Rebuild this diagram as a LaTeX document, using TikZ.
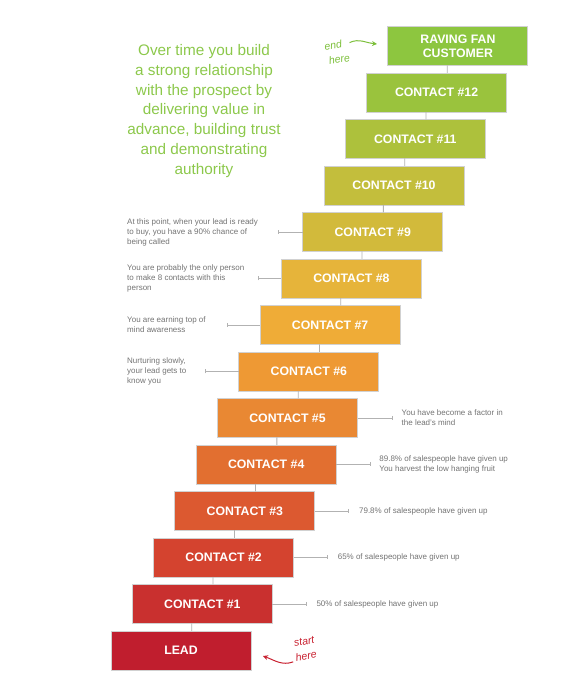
\documentclass[tikz,border=0pt]{standalone}
\usepackage{fontspec}
\setmainfont{Liberation Sans}
\usepackage{xcolor}
\usepackage{tikz}
\usetikzlibrary{arrows.meta, positioning, calc}
\definecolor{funnel_lead}{HTML}{C01E2E}
\definecolor{funnel_c1}{HTML}{C9302F}
\definecolor{funnel_c2}{HTML}{D4432F}
\definecolor{funnel_c3}{HTML}{DC5930}
\definecolor{funnel_c4}{HTML}{E26F30}
\definecolor{funnel_c5}{HTML}{E98833}
\definecolor{funnel_c6}{HTML}{EE9934}
\definecolor{funnel_c7}{HTML}{EFAC37}
\definecolor{funnel_c8}{HTML}{E6B43A}
\definecolor{funnel_c9}{HTML}{D2BA3B}
\definecolor{funnel_c10}{HTML}{C3BE3C}
\definecolor{funnel_c11}{HTML}{ADC13C}
\definecolor{funnel_c12}{HTML}{9AC33D}
\definecolor{funnel_fan}{HTML}{8DC63F}
\definecolor{title_green}{HTML}{8CC84B}
\definecolor{hand_green}{HTML}{7CBF3A}
\definecolor{hand_red}{HTML}{C8202F}

\begin{document}
\begin{tikzpicture}[
        x=1pt, y=1pt,
        contact/.style={rectangle, draw=black!18, line width=0.9pt, outer sep=0pt, minimum width=140pt, minimum height=39pt, text=white, align=center, font=\bfseries\fontsize{12.3}{14}\selectfont},
        link/.style={draw=black!30, line width=0.8pt},
        note/.style={inner sep=0pt, align=left, text=black!55, font=\fontsize{8}{10}\selectfont},
        leftmark/.style={draw=black!30, line width=0.7pt, {Bar[width=4pt]}-},
        rightmark/.style={draw=black!30, line width=0.7pt, -{Bar[width=4pt]}},
        hand/.style={font=\itshape\fontsize{10.5}{15}\selectfont, align=left, inner sep=0pt},
        hand_arrow/.style={line width=1pt, -{Stealth[length=5pt, width=5pt]}},
    ]
        \useasboundingbox (0,0) rectangle (568,679);

        % Steps
        \node[contact, fill=funnel_lead] (lead) at (181,28.5) {LEAD};
        \node[contact, fill=funnel_c1, above=7.5pt of lead, xshift=21.3pt] (c1) {CONTACT \#1};
        \node[contact, fill=funnel_c2, above=7.5pt of c1, xshift=21.3pt] (c2) {CONTACT \#2};
        \node[contact, fill=funnel_c3, above=7.5pt of c2, xshift=21.3pt] (c3) {CONTACT \#3};
        \node[contact, fill=funnel_c4, above=7.5pt of c3, xshift=21.3pt] (c4) {CONTACT \#4};
        \node[contact, fill=funnel_c5, above=7.5pt of c4, xshift=21.3pt] (c5) {CONTACT \#5};
        \node[contact, fill=funnel_c6, above=7.5pt of c5, xshift=21.3pt] (c6) {CONTACT \#6};
        \node[contact, fill=funnel_c7, above=7.5pt of c6, xshift=21.3pt] (c7) {CONTACT \#7};
        \node[contact, fill=funnel_c8, above=7.5pt of c7, xshift=21.3pt] (c8) {CONTACT \#8};
        \node[contact, fill=funnel_c9, above=7.5pt of c8, xshift=21.3pt] (c9) {CONTACT \#9};
        \node[contact, fill=funnel_c10, above=7.5pt of c9, xshift=21.3pt] (c10) {CONTACT \#10};
        \node[contact, fill=funnel_c11, above=7.5pt of c10, xshift=21.3pt] (c11) {CONTACT \#11};
        \node[contact, fill=funnel_c12, above=7.5pt of c11, xshift=21.3pt] (c12) {CONTACT \#12};
        \node[contact, fill=funnel_fan, above=7.5pt of c12, xshift=21.3pt] (fan) {RAVING FAN\\CUSTOMER};

        % Links between steps
        \draw[link] ([xshift=10.65pt]lead.north) -- ([xshift=-10.65pt]c1.south);
        \draw[link] ([xshift=10.65pt]c1.north) -- ([xshift=-10.65pt]c2.south);
        \draw[link] ([xshift=10.65pt]c2.north) -- ([xshift=-10.65pt]c3.south);
        \draw[link] ([xshift=10.65pt]c3.north) -- ([xshift=-10.65pt]c4.south);
        \draw[link] ([xshift=10.65pt]c4.north) -- ([xshift=-10.65pt]c5.south);
        \draw[link] ([xshift=10.65pt]c5.north) -- ([xshift=-10.65pt]c6.south);
        \draw[link] ([xshift=10.65pt]c6.north) -- ([xshift=-10.65pt]c7.south);
        \draw[link] ([xshift=10.65pt]c7.north) -- ([xshift=-10.65pt]c8.south);
        \draw[link] ([xshift=10.65pt]c8.north) -- ([xshift=-10.65pt]c9.south);
        \draw[link] ([xshift=10.65pt]c9.north) -- ([xshift=-10.65pt]c10.south);
        \draw[link] ([xshift=10.65pt]c10.north) -- ([xshift=-10.65pt]c11.south);
        \draw[link] ([xshift=10.65pt]c11.north) -- ([xshift=-10.65pt]c12.south);
        \draw[link] ([xshift=10.65pt]c12.north) -- ([xshift=-10.65pt]fan.south);

        % Title
        \node[text=title_green, align=center, font=\fontsize{15.3}{19.7}\selectfont] (title) at (204,568)
            {Over time you build\\a strong relationship\\with the prospect by\\delivering value in\\advance, building trust\\and demonstrating\\authority};

        % Notes on the right
        \coordinate[right=34pt of c1] (t1);
        \coordinate[right=34pt of c2] (t2);
        \coordinate[right=34pt of c3] (t3);
        \coordinate[right=34pt of c4] (t4);
        \coordinate[right=35pt of c5] (t5);
        \draw[rightmark] (c1) -- (t1);
        \draw[rightmark] (c2) -- (t2);
        \draw[rightmark] (c3) -- (t3);
        \draw[rightmark] (c4) -- (t4);
        \draw[rightmark] (c5) -- (t5);
        \node[note, right=10pt of t1] (n1) {50\% of salespeople have given up};
        \node[note, right=10pt of t2] (n2) {65\% of salespeople have given up};
        \node[note, right=10pt of t3] (n3) {79.8\% of salespeople have given up};
        \node[note, right=9pt of t4] (n4) {89.8\% of salespeople have given up\\You harvest the low hanging fruit};
        \node[note, right=9pt of t5] (n5) {You have become a factor in\\the lead's mind};

        % Notes on the left
        \coordinate (notecol) at (127,0);
        \coordinate[left=34pt of c6] (t6);
        \coordinate[left=33pt of c7] (t7);
        \coordinate[left=23pt of c8] (t8);
        \coordinate[left=25pt of c9] (t9);
        \draw[leftmark] (t6) -- (c6);
        \draw[leftmark] (t7) -- (c7);
        \draw[leftmark] (t8) -- (c8);
        \draw[leftmark] (t9) -- (c9);
        \node[note, anchor=west] (n6) at (notecol |- c6) {Nurturing slowly,\\your lead gets to\\know you};
        \node[note, anchor=west] (n7) at (notecol |- c7) {You are earning top of\\mind awareness};
        \node[note, anchor=west] (n8) at (notecol |- c8) {You are probably the only person\\to make 8 contacts with this\\person};
        \node[note, anchor=west] (n9) at (notecol |- c9) {At this point, when your lead is ready\\to buy, you have a 90\% chance of\\being called};

        % Hand notes
        \node[hand, text=hand_green, rotate=10] (endnote) at (337,627) {end\\\hspace{2pt}here};
        \coordinate (endtip) at (377,635);
        \draw[hand_arrow, hand_green] ([xshift=3pt,yshift=-4pt]endnote.north east) to[out=25, in=175] (endtip);
        \node[hand, text=hand_red, rotate=10] (startnote) at (305,30) {\hspace{1pt}start\\here};
        \coordinate (starttip) at (263,23);
        \draw[hand_arrow, hand_red] ([xshift=-3pt]startnote.south west) to[out=200, in=-20] (starttip);
    \end{tikzpicture}
\end{document}
